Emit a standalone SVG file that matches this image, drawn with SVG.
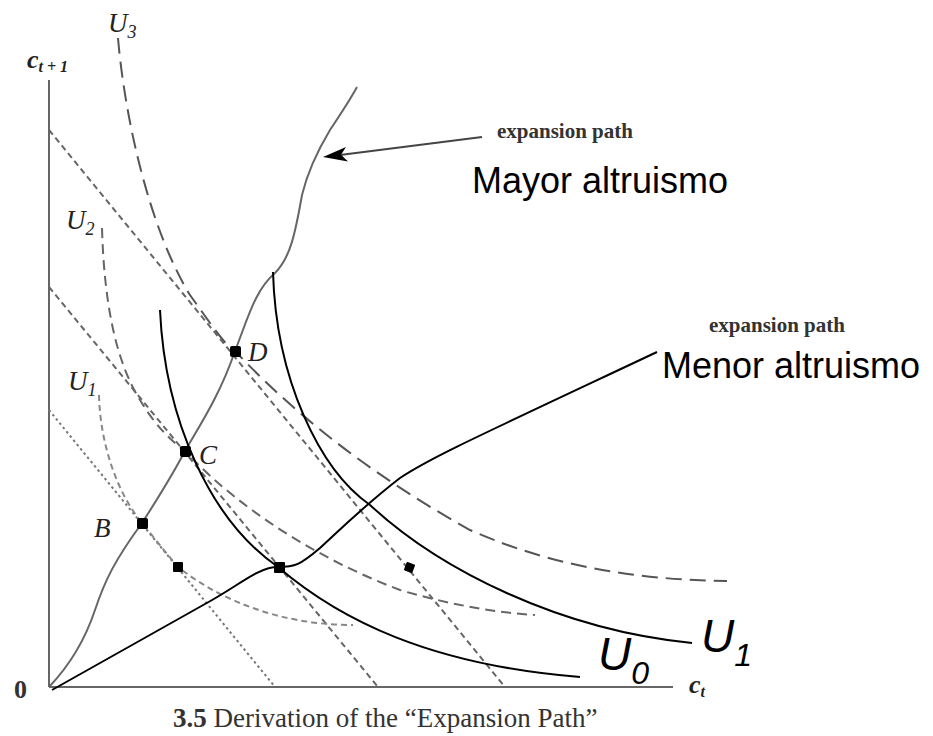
<svg xmlns="http://www.w3.org/2000/svg" width="933" height="736" viewBox="0 0 933 736">
<style>
.axis{stroke:#666;stroke-width:2;fill:none}
.bl{stroke:#666;stroke-width:2;fill:none;stroke-dasharray:6 4}
.bl3{stroke:#777;stroke-width:2;fill:none;stroke-dasharray:2.5 3}
.u3{stroke:#555;stroke-width:2;fill:none;stroke-dasharray:16 8}
.u2{stroke:#666;stroke-width:2;fill:none;stroke-dasharray:10 6}
.u1{stroke:#888;stroke-width:2;fill:none;stroke-dasharray:6 4}
.ep{stroke:#666;stroke-width:2;fill:none}
.blk{stroke:#000;stroke-width:2;fill:none}
.lab{font-family:"Liberation Serif",serif;font-style:italic;fill:#222}
.ser{font-family:"Liberation Serif",serif;fill:#333}
.sans{font-family:"Liberation Sans",Arial,sans-serif;fill:#000}
.pt{fill:#000}
</style>
<g id="axes">
<line class="axis" x1="49" y1="80" x2="49" y2="687"/>
<line class="axis" x1="49" y1="687" x2="673" y2="687"/>
<text class="ser" x="14" y="698" font-size="26" font-weight="bold">0</text>
<text class="lab" x="27" y="68" font-size="26" font-weight="bold">c<tspan font-size="16" dy="4">t + 1</tspan></text>
<text class="lab" x="689" y="693" font-size="26" font-weight="bold">c<tspan font-size="16" dy="4">t</tspan></text>
</g>
<g id="connectors">
<line class="bl" x1="49" y1="130" x2="505" y2="687"/>
<line class="bl" x1="49" y1="287" x2="378" y2="687"/>
<line class="bl3" x1="49" y1="410" x2="275" y2="687"/>
<path class="u3" d="M118,38 C125,120 150,230 190,295 C215,330 225,345 235,351 C300,420 380,480 470,530 C560,570 650,580 727,581"/>
<path class="u2" d="M102,228 C104,300 115,360 140,400 C155,425 170,440 185,451 C240,510 320,560 400,590 C450,605 500,613 535,615"/>
<path class="u1" d="M99,395 C100,440 115,490 142,523 C160,545 170,558 178,567 C220,600 280,625 353,625"/>
<path class="ep" d="M49,687 C70,665 85,640 95,610 C105,580 115,560 142,523 C160,495 175,470 185,451 C200,425 220,395 235,351 C248,318 255,290 275,273 C290,258 295,235 302,195 C308,170 318,150 330,130 C340,115 350,100 357,87"/>
<g id="arrow">
<line stroke="#444" stroke-width="2" x1="482" y1="137" x2="340" y2="155"/>
<polygon points="323,157 348,161.5 341,154.8 346,147" fill="#000"/>
</g>
<path class="blk" d="M52,690 L205,604 C240,585 258,567 278,567 C295,567 300,565 320,548 C345,525 365,505 400,478 C430,458 470,440 657,352"/>
<path class="blk" d="M160,310 C165,420 210,520 278,567 C340,620 430,665 580,677"/>
<path class="blk" d="M273,272 C276,380 320,470 370,505 C440,570 560,630 692,643"/>
</g>
<g id="points">
<rect class="pt" x="137" y="518" width="11" height="11" rx="2"/>
<rect class="pt" x="180" y="446" width="11" height="11" rx="2"/>
<rect class="pt" x="230" y="346" width="11" height="11" rx="2"/>
<rect class="pt" x="173" y="562" width="10" height="10" rx="1"/>
<rect class="pt" x="274" y="562" width="11" height="11" rx="1"/>
<rect class="pt" x="405" y="563" width="9" height="9" rx="1" transform="rotate(20 409.5 567.5)"/>
</g>
<g id="labels">
<text class="lab" x="94" y="537" font-size="27">B</text>
<text class="lab" x="199" y="464" font-size="27">C</text>
<text class="lab" x="248" y="361" font-size="27">D</text>
<text class="lab" x="108" y="32" font-size="27">U<tspan font-size="18" dy="6">3</tspan></text>
<text class="lab" x="66" y="229" font-size="27">U<tspan font-size="18" dy="6">2</tspan></text>
<text class="lab" x="68" y="390" font-size="27">U<tspan font-size="18" dy="6">1</tspan></text>
<text class="ser" x="497" y="138" font-size="21" font-weight="bold">expansion path</text>
<text class="ser" x="709" y="332" font-size="21" font-weight="bold">expansion path</text>
<text class="sans" x="472" y="193" font-size="36">Mayor altruismo</text>
<text class="sans" x="662" y="378" font-size="36">Menor altruismo</text>
<text class="sans" x="598" y="670" font-size="46" font-style="italic">U<tspan font-size="32" dy="14">0</tspan></text>
<text class="sans" x="701" y="652" font-size="46" font-style="italic">U<tspan font-size="32" dy="14">1</tspan></text>
<text class="ser" x="173" y="727" font-size="27"><tspan font-weight="bold">3.5</tspan>  Derivation of the “Expansion Path”</text>
</g>
</svg>
